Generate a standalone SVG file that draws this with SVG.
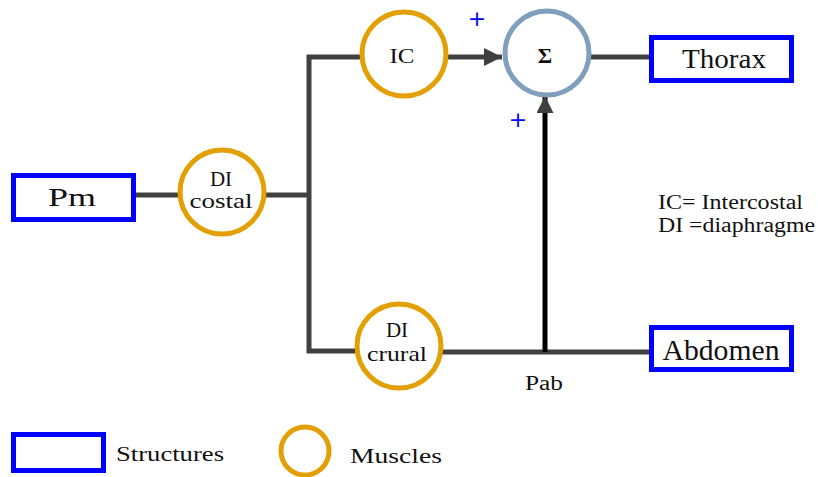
<svg xmlns="http://www.w3.org/2000/svg" width="818" height="477" viewBox="0 0 818 477">
<defs>
<style>
.struct{fill:#fff;stroke:#0000ff;stroke-width:5;}
.muscle{fill:#fff;stroke:#e3a004;stroke-width:5;}
.sum{fill:#fff;stroke:#809fbe;stroke-width:5;}
.wire{fill:none;stroke:#404040;stroke-width:5;}
.txt{font-family:'Liberation Serif', serif;fill:#111;}
.plus{font-family:'DejaVu Sans', sans-serif;fill:#0000ff;font-size:22px;}
</style>
<marker id="ahGray" viewBox="0 0 10 10" refX="10" refY="5" markerWidth="3.6" markerHeight="3.6" orient="auto" markerUnits="strokeWidth"><path d="M0,0 L10,5 L0,10 z" fill="#404040"/></marker>
<marker id="ahBlack" viewBox="0 0 10 10" refX="10" refY="5" markerWidth="3.4" markerHeight="3.4" orient="auto" markerUnits="strokeWidth"><path d="M0,0 L10,5 L0,10 z" fill="#404040"/></marker>
</defs>
<rect width="818" height="477" fill="#fff"/>
<g id="connectors">
<line class="wire" x1="135" y1="195" x2="180" y2="195"/>
<line class="wire" x1="265" y1="195" x2="309" y2="195"/>
<polyline class="wire" points="361,57 309,57 309,351 357,351"/>
<line class="wire" x1="446" y1="57" x2="502" y2="57" marker-end="url(#ahGray)"/>
<line class="wire" x1="590" y1="57" x2="650" y2="57"/>
<line class="wire" x1="441" y1="352" x2="650" y2="352"/>
<line x1="545" y1="352" x2="545" y2="96" stroke="#000" stroke-width="5" marker-end="url(#ahBlack)"/>
</g>
<g id="Pm"><rect class="struct" x="13.5" y="175.5" width="120" height="44"/><text class="txt" font-family="Liberation Serif, serif" x="72" y="206" font-size="25" text-anchor="middle" textLength="48" lengthAdjust="spacingAndGlyphs">Pm</text></g>
<g id="DIcostal"><circle class="muscle" cx="222" cy="192" r="42"/><text class="txt" font-family="Liberation Serif, serif" x="221" y="186" font-size="21" text-anchor="middle">DI</text><text class="txt" font-family="Liberation Serif, serif" x="221" y="208" font-size="21" text-anchor="middle" textLength="63" lengthAdjust="spacingAndGlyphs">costal</text></g>
<g id="IC"><circle class="muscle" cx="404" cy="54" r="42"/><text class="txt" font-family="Liberation Serif, serif" x="402" y="63" font-size="21" text-anchor="middle" textLength="25" lengthAdjust="spacingAndGlyphs">IC</text></g>
<g id="Sigma"><circle class="sum" cx="547" cy="53" r="42"/><text class="txt" font-family="Liberation Serif, serif" x="545" y="63" font-size="22" font-weight="bold" text-anchor="middle">Σ</text></g>
<g id="Thorax"><rect class="struct" x="651.5" y="37.5" width="140" height="43"/><text class="txt" font-family="Liberation Serif, serif" x="724" y="68" font-size="28" text-anchor="middle" textLength="84" lengthAdjust="spacingAndGlyphs">Thorax</text></g>
<g id="DIcrural"><circle class="muscle" cx="399" cy="346" r="42"/><text class="txt" font-family="Liberation Serif, serif" x="397" y="337" font-size="21" text-anchor="middle">DI</text><text class="txt" font-family="Liberation Serif, serif" x="397" y="361" font-size="21" text-anchor="middle" textLength="60" lengthAdjust="spacingAndGlyphs">crural</text></g>
<g id="Abdomen"><rect class="struct" x="651.5" y="327.5" width="140" height="42"/><text class="txt" font-family="Liberation Serif, serif" x="721" y="360" font-size="29" text-anchor="middle" textLength="117" lengthAdjust="spacingAndGlyphs">Abdomen</text></g>
<g id="labels">
<text class="plus" x="477" y="26" text-anchor="middle">+</text>
<text class="plus" x="518" y="127" text-anchor="middle">+</text>
<text class="txt" font-family="Liberation Serif, serif" x="544" y="390" font-size="20" text-anchor="middle" textLength="38" lengthAdjust="spacingAndGlyphs">Pab</text>
<text class="txt" font-family="Liberation Serif, serif" x="658" y="209" font-size="20" textLength="145" lengthAdjust="spacingAndGlyphs">IC= Intercostal</text>
<text class="txt" font-family="Liberation Serif, serif" x="658" y="232" font-size="20" textLength="157" lengthAdjust="spacingAndGlyphs">DI =diaphragme</text>
</g>
<g id="legend">
<rect class="struct" x="13.5" y="434.5" width="90" height="36"/>
<text class="txt" font-family="Liberation Serif, serif" x="116" y="461" font-size="20" textLength="108" lengthAdjust="spacingAndGlyphs">Structures</text>
<circle class="muscle" cx="305" cy="451" r="24"/>
<text class="txt" font-family="Liberation Serif, serif" x="350" y="463" font-size="20" textLength="92" lengthAdjust="spacingAndGlyphs">Muscles</text>
</g>
</svg>
